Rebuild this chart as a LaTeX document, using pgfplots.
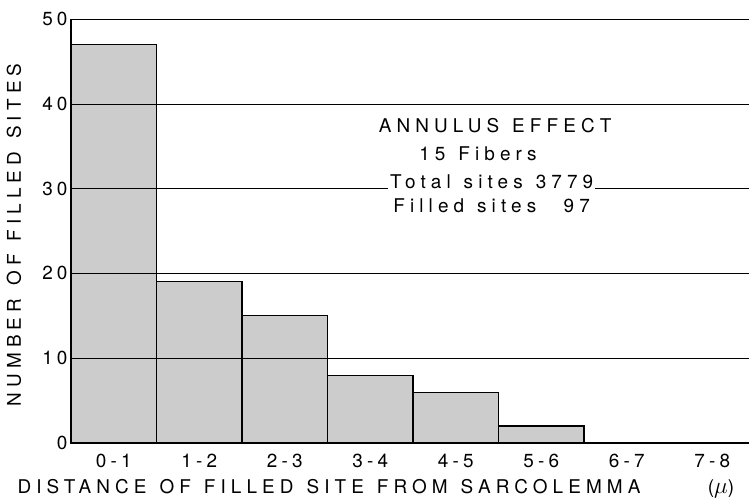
\documentclass[border=0pt]{standalone}
\usepackage{pgfplots}
\pgfplotsset{compat=1.18}
\usepackage{graphicx}
\usepackage{fontspec}
\setmainfont{TeX Gyre Heros}[LetterSpace=27, WordSpace=1.25]
\newfontfamily\tickfont{TeX Gyre Heros}[LetterSpace=22]
\newcommand{\lf}{\fontsize{19}{21}\selectfont}
\begin{document}
\begin{tikzpicture}[x=1bp,y=1bp]
\useasboundingbox (-71bp,-55bp) rectangle (678bp,443bp);
\begin{axis}[
  at={(0,0)}, anchor=south west,
  scale only axis, width=678bp, height=424bp,
  xmin=0, xmax=7.93, ymin=0, ymax=50,
  axis x line*=bottom, axis y line*=left,
  x axis line style={-, line width=1.1pt},
  y axis line style={-, line width=1.3pt},
  axis on top,
  ymajorgrids, grid style={black, line width=0.6pt},
  ytick={0,10,20,30,40,50},
  xtick={0.5,1.5,2.5,3.5,4.5,5.5,6.5,7.5},
  xticklabels={0-1,1-2,2-3,3-4,4-5,5-6,6-7,7-8},
  major tick length=0pt,
  /pgf/number format/assume math mode=true,
  ticklabel style={font=\tickfont\lf},
  yticklabel style={xshift=0bp},
  xticklabel style={yshift=-8bp},
  clip=false,
]
\addplot[ybar, bar width=1, bar shift=0pt, fill=black!20, draw=black, line width=1.2pt]
  coordinates {(0.5,47) (1.5,19) (2.5,15) (3.5,8) (4.5,6) (5.5,2)};
\node[font=\lf] at (axis cs:4.96,37.4) {ANNULUS EFFECT};
\node[font=\lf] at (axis cs:4.76,34.1) {15 Fibers};
\node[font=\lf, anchor=base west] at (axis cs:3.73,27.2) {Filled sites};
\node[font=\lf, anchor=base east] at (axis cs:6.11,27.2) {97};
\coordinate (t) at (axis cs:4.92,30);
\end{axis}
\node[anchor=base, fill=white, inner xsep=2bp, inner ysep=0pt, font=\lf] at ([yshift=0.5bp]t) {\strut Total sites 3779};
\node[font=\lf, anchor=base west] at (-57bp,-50bp) {DISTANCE OF FILLED SITE FROM SARCOLEMMA};
\node[font=\lf, anchor=base, inner sep=0pt] at (650bp,-50bp) {(\scalebox{1.35}{$\mu$})};
\node[rotate=90, font=\lf] at (-57bp,208bp) {NUMBER OF FILLED SITES};
\end{tikzpicture}
\end{document}
